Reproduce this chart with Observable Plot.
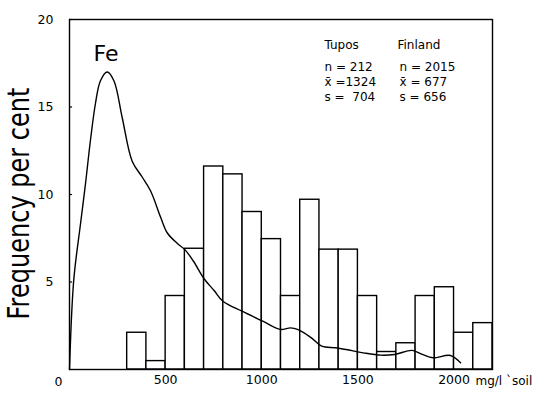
<!DOCTYPE html>
<html>
<head>
<meta charset="utf-8">
<script src="https://cdn.jsdelivr.net/npm/d3@7"></script>
<script src="https://cdn.jsdelivr.net/npm/@observablehq/plot@0.6"></script>
<style>
  html, body { margin: 0; padding: 0; background: #fff; }
  #chart { width: 543px; height: 393px; }
</style>
</head>
<body>
<div id="chart"></div>
<script>
// Tupos histogram: bin starts (mg/l), bin width 100, percent frequency
const binStarts = [300, 400, 500, 600, 700, 800, 900, 1000, 1100, 1200, 1300, 1400, 1500, 1600, 1700, 1800, 1900, 2000, 2100];
const tuposPct  = [2.1, 0.48, 4.2, 6.9, 11.6, 11.15, 9.0, 7.45, 4.2, 9.7, 6.85, 6.85, 4.2, 1.0, 1.5, 4.2, 4.7, 2.1, 2.65];
const binWidth = 100;

// Finland frequency curve
const finX = [0, 22, 57, 83, 109, 135, 161, 196, 231, 274, 326, 378, 422, 474, 509, 561, 600, 644, 699, 753, 798, 897, 1005, 1096, 1150, 1186, 1258, 1312, 1384, 1439, 1529, 1619, 1691, 1782, 1836, 1890, 1981, 2034];
const finY = [0, 5.1, 8.3, 10.6, 13.1, 15.2, 16.5, 17.0, 16.5, 14.4, 11.9, 11.0, 10.2, 8.7, 7.8, 7.2, 6.85, 6.2, 5.2, 4.5, 3.9, 3.33, 2.76, 2.29, 2.38, 2.29, 1.81, 1.33, 1.24, 1.14, 0.95, 0.82, 0.86, 1.09, 0.86, 0.67, 0.8, 0.38];

const xTicks = [500, 1000, 1500, 2000];
const yTicks = [5, 10, 15, 20];
const innerTickLen = 16; // in x units (≈3px)

const bars = binStarts.map((s, i) => ({x1: s, x2: s + binWidth, y: tuposPct[i]}));
const curve = finX.map((x, i) => ({x, y: finY[i]}));

const font = "DejaVu Sans";
const fmt = d => String(d);
const lbl = (txt, dx, dy, size = 12) =>
  Plot.text([txt], {frameAnchor: "top-left", dx, dy, textAnchor: "start", lineAnchor: "middle", fontSize: size});

const chart = Plot.plot({
  width: 543,
  height: 393,
  marginLeft: 69,
  marginRight: 51,
  marginTop: 19,
  marginBottom: 24,
  style: {fontFamily: font, background: "white", color: "black"},
  x: {domain: [0, 2200]},
  y: {domain: [0, 20]},
  marks: [
    Plot.rectY(bars, {x1: "x1", x2: "x2", y: "y", fill: "white", stroke: "black", strokeWidth: 1.4}),
    Plot.line(curve, {x: "x", y: "y", curve: "catmull-rom", stroke: "black", strokeWidth: 1.4}),
    Plot.frame({stroke: "black", strokeWidth: 1.4}),
    Plot.ruleY(yTicks, {x1: 0, x2: innerTickLen, stroke: "black", strokeWidth: 1.2}),
    Plot.axisX(xTicks, {tickSize: 0, tickPadding: 6, fontSize: 12.5, label: null, tickFormat: fmt}),
    Plot.axisY(yTicks, {tickSize: 0, tickPadding: 16, fontSize: 12.5, label: null, tickFormat: fmt}),
    Plot.text(["0"], {frameAnchor: "bottom-left", dx: -15, dy: 12, lineAnchor: "middle", fontSize: 12.5}),
    Plot.text(["mg/l `soil"], {frameAnchor: "bottom-right", dx: -17, dy: 12, textAnchor: "start", lineAnchor: "middle", fontSize: 12}),
    Plot.text(["Frequency per cent"], {frameAnchor: "left", dx: -50, dy: 9, rotate: -90, textAnchor: "middle", lineAnchor: "middle", fontSize: 30}),
    lbl("Fe", 24, 34, 22),
    lbl("Tupos", 255, 26),
    lbl("n = 212", 255, 48),
    lbl("x\u0304 =1324", 255, 63),
    lbl("s =  704", 255, 78),
    lbl("Finland", 328, 26),
    lbl("n = 2015", 330, 48),
    lbl("x\u0304 = 677", 330, 63),
    lbl("s = 656", 330, 78)
  ]
});
document.getElementById("chart").appendChild(chart);
chart.querySelectorAll("text").forEach(t => {
  if (t.textContent === "Frequency per cent") {
    t.setAttribute("textLength", "232");
    t.setAttribute("lengthAdjust", "spacingAndGlyphs");
  }
});
</script>
</body>
</html>
